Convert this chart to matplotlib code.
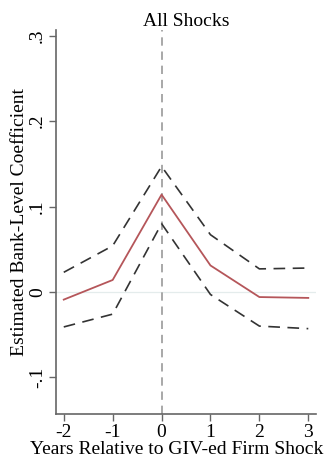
import matplotlib
matplotlib.use("Agg")
import matplotlib.pyplot as plt

# Event-time coefficients with confidence bands
years = [-2, -1, 0, 1, 2, 3]
coef = [-0.009, 0.014, 0.114, 0.031, -0.006, -0.007]
upper = [0.023, 0.054, 0.147, 0.067, 0.027, 0.028]
lower = [-0.041, -0.026, 0.080, -0.003, -0.040, -0.043]
yticks = [-0.1, 0, 0.1, 0.2, 0.3]
yticklabels = ["-.1", "0", ".1", ".2", ".3"]

plt.rcParams["font.family"] = ["Liberation Serif", "DejaVu Serif"]
FS = 14

fig = plt.figure(figsize=(3.31, 4.59), dpi=100)
ax = fig.add_axes([0.169, 0.098, 0.786, 0.837])

ax.axhline(0, color="#e4ecec", lw=0.9, zorder=1)
ax.axvline(0, color="#999999", lw=1.2, ls=(0, (5, 3.5)), zorder=1)

ax.plot(years, upper, color="#333333", lw=1.2, ls=(0, (7, 4.5)), zorder=2)
ax.plot(years, lower, color="#333333", lw=1.2, ls=(0, (7, 4.5)), zorder=2)
ax.plot(years, coef, color="#b5565a", lw=1.3, zorder=3)

ax.set_xlim(-2.16, 3.16)
ax.set_ylim(-0.143, 0.307)
ax.set_xticks(years)
ax.set_xticklabels([str(y) for y in years], fontsize=FS)
ax.set_yticks(yticks)
ax.set_yticklabels(yticklabels, fontsize=FS, rotation=90, va="center")

for side in ("top", "right"):
    ax.spines[side].set_visible(False)
for side in ("left", "bottom"):
    ax.spines[side].set_color("#666666")
    ax.spines[side].set_linewidth(1.2)
ax.tick_params(colors="#666666", labelcolor="black", length=5, width=1.0, pad=2)

ax.set_title("All Shocks", fontsize=FS, pad=3)
ax.set_xlabel("Years Relative to GIV-ed Firm Shock", fontsize=FS, labelpad=0)
ax.xaxis.label.set_x(0.465)
ax.set_ylabel("Estimated Bank-Level Coefficient", fontsize=FS, labelpad=1)

fig.savefig("out.png", dpi=100)
